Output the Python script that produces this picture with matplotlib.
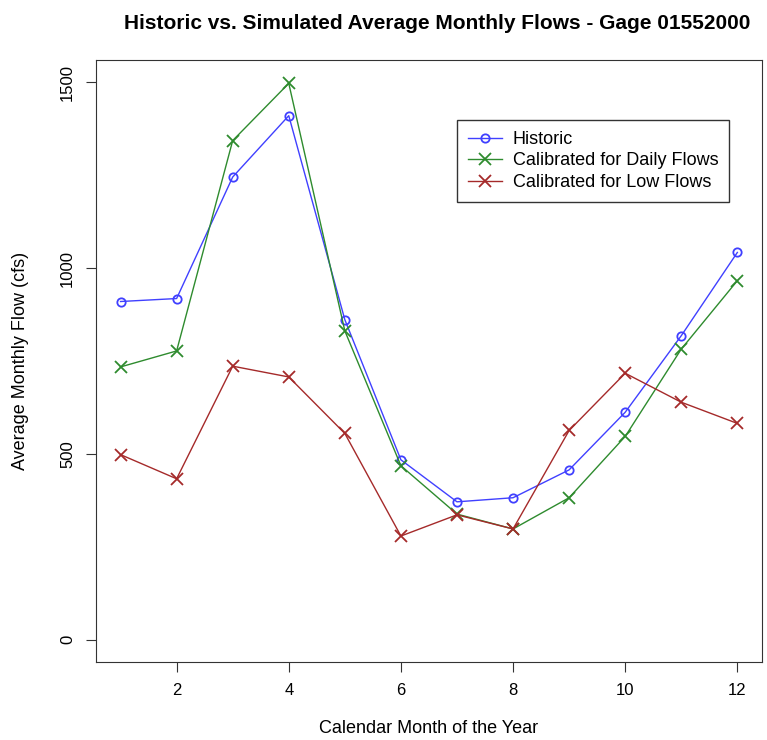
import matplotlib.pyplot as plt
import numpy as np

plt.rcParams['font.family'] = ['Liberation Sans', 'DejaVu Sans']

months = np.arange(1, 13)
historic = [910, 918, 1245, 1410, 861, 484, 371, 382, 457, 612, 818, 1042]
daily = [734, 777, 1343, 1497, 831, 468, 338, 298, 382, 547, 782, 966]
low = [498, 433, 736, 707, 555, 279, 336, 298, 563, 717, 639, 582]

fig = plt.figure(figsize=(7.67, 7.4), dpi=100)
ax = fig.add_axes([0.125, 0.1054, 0.8685, 0.8136])

ax.plot(months, historic, color='#4040ff', marker='o', mfc='none', ms=6, mew=1.3, lw=1, label='Historic')
ax.plot(months, daily, color='#2e8b2e', marker='x', ms=9, mew=1.3, lw=1, label='Calibrated for Daily Flows')
ax.plot(months, low, color='#a52a2a', marker='x', ms=9, mew=1.3, lw=1, label='Calibrated for Low Flows')

ax.set_xlim(0.56, 12.44)
ax.set_ylim(-60, 1560)
ax.set_xticks([2, 4, 6, 8, 10, 12])
ax.set_yticks([0, 500, 1000, 1500])
ax.set_yticklabels(['0', '500', '1000', '1500'], rotation=90, va='center')
ax.tick_params(labelsize=12, length=7, color='#333333', pad=8)
for s in ax.spines.values():
    s.set_color('#333333')

ax.set_xlabel('Calendar Month of the Year', fontsize=13, labelpad=16)
ax.set_ylabel('Average Monthly Flow (cfs)', fontsize=13, labelpad=22)
ax.set_title('Historic vs. Simulated Average Monthly Flows - Gage 01552000', fontsize=15, fontweight='bold', pad=22, x=0.512)

leg = ax.legend(loc='upper left', bbox_to_anchor=(0.542, 0.9), borderaxespad=0, fontsize=13, frameon=True,
                fancybox=False, edgecolor='black', handlelength=1.9, handletextpad=0.6,
                borderpad=0.6, labelspacing=0.25)
leg.get_frame().set_linewidth(1)

fig.savefig('out.png', dpi=100)
